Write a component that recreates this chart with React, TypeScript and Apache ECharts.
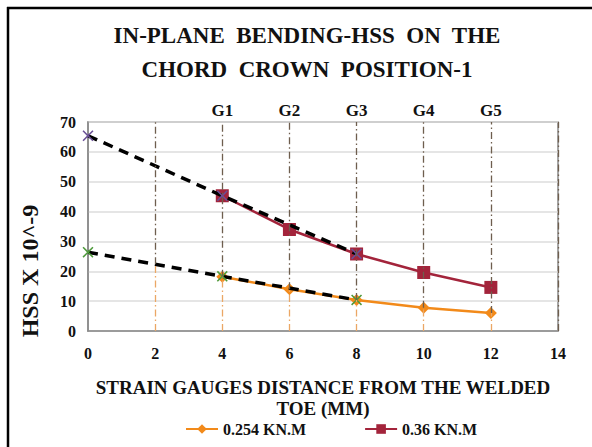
import React, { useEffect, useRef } from "react";
import * as echarts from "echarts";

const distances = [4, 6, 8, 10, 12];
const series254 = [18.2, 14.0, 10.4, 7.8, 6.0];
const series36 = [45.3, 34.0, 25.8, 19.6, 14.6];
const extrapX = [0, 4, 8];
const extrap254 = [26.4, 18.3, 10.4];
const extrap36 = [65.4, 45.3, 25.8];
const gaugeX = [4, 6, 8, 10, 12];
const gaugeNames = ["G1", "G2", "G3", "G4", "G5"];
const gridX = [2, 4, 6, 8, 10, 12, 14];

const FONT = "Liberation Serif";
const ORANGE = "#F28A1A";
const RED = "#A3243B";
const XPATH = "path://M1,0 L5,4 L9,0 L10,1 L6,5 L10,9 L9,10 L5,6 L1,10 L0,9 L4,5 L0,1 Z";

function lowerAt(x: number): number {
  const i = distances.indexOf(x);
  if (i >= 0) return series254[i];
  if (x < 4) {
    const t = (x - extrapX[0]) / (extrapX[1] - extrapX[0]);
    return extrap254[0] + t * (extrap254[1] - extrap254[0]);
  }
  return 0;
}

export default function App() {
  const ref = useRef<HTMLDivElement>(null);
  useEffect(() => {
    if (!ref.current) return;
    const chart = echarts.init(ref.current, undefined, { renderer: "svg" });
    const dashDot = [7, 3, 1.5, 3];
    const markData: any[] = [];
    gridX.forEach((x) => {
      const lv = lowerAt(x);
      markData.push([
        { coord: [x, lv], lineStyle: { color: "#6e5e4e", type: dashDot, width: 1.3 } },
        { coord: [x, 70] },
      ]);
      if (lv > 0) {
        markData.push([
          { coord: [x, 0], lineStyle: { color: "#EBA765", type: dashDot, width: 1.3 } },
          { coord: [x, lv] },
        ]);
      }
    });
    chart.setOption({
      animation: false,
      backgroundColor: "#fff",
      title: {
        text: "IN-PLANE  BENDING-HSS  ON  THE\nCHORD  CROWN  POSITION-1",
        left: 302,
        top: 13,
        textAlign: "center",
        textStyle: {
          fontFamily: FONT,
          fontWeight: "bold",
          fontSize: 23,
          lineHeight: 34,
          color: "#111",
        },
      },
      grid: {
        left: 88,
        right: 34,
        top: 122,
        bottom: 116,
        show: true,
        borderColor: "#8a8a8a",
        borderWidth: 1.5,
      },
      legend: {
        bottom: 5,
        left: 180,
        itemGap: 58,
        itemWidth: 32,
        itemHeight: 12,
        textStyle: { fontFamily: FONT, fontWeight: "bold", fontSize: 16, color: "#111" },
        data: ["0.254 KN.M", "0.36 KN.M"],
      },
      xAxis: [
        {
          type: "value",
          min: 0,
          max: 14,
          interval: 2,
          position: "bottom",
          axisLine: { show: true, lineStyle: { color: "#8a8a8a", width: 1.5 } },
          axisTick: { show: false },
          splitLine: { show: false },
          axisLabel: { fontFamily: FONT, fontWeight: "bold", fontSize: 16, color: "#111", margin: 14 },
          name: "STRAIN GAUGES DISTANCE FROM THE WELDED\nTOE (MM)",
          nameLocation: "middle",
          nameGap: 46,
          nameTextStyle: { fontFamily: FONT, fontWeight: "bold", fontSize: 19, lineHeight: 21, color: "#111" },
        },
        {
          type: "value",
          min: 0,
          max: 14,
          interval: 2,
          position: "top",
          axisLine: { show: false },
          axisTick: { show: false },
          splitLine: { show: false },
          axisLabel: {
            fontFamily: FONT,
            fontWeight: "bold",
            fontSize: 17,
            color: "#111",
            margin: 3,
            formatter: (v: number) => {
              const i = gaugeX.indexOf(v);
              return i >= 0 ? gaugeNames[i] : "";
            },
          },
        },
      ],
      yAxis: {
        type: "value",
        min: 0,
        max: 70,
        interval: 10,
        axisLine: { show: true, lineStyle: { color: "#8a8a8a", width: 1.5 } },
        axisTick: { show: false },
        splitLine: { show: true, lineStyle: { color: "#dcdcdc", width: 1.5 } },
        axisLabel: { fontFamily: FONT, fontWeight: "bold", fontSize: 16, color: "#111", margin: 12 },
      },
      series: [
        {
          name: "grid-lines",
          type: "line",
          data: [],
          silent: true,
          markLine: { silent: true, symbol: "none", label: { show: false }, data: markData },
        },
        {
          name: "0.254 KN.M",
          type: "line",
          data: distances.map((x, i) => [x, series254[i]]),
          color: ORANGE,
          lineStyle: { color: ORANGE, width: 2.5 },
          symbol: "diamond",
          symbolSize: 12,
          itemStyle: { color: ORANGE },
          z: 3,
        },
        {
          name: "0.36 KN.M",
          type: "line",
          data: distances.map((x, i) => [x, series36[i]]),
          color: RED,
          lineStyle: { color: RED, width: 2.5 },
          symbol: "rect",
          symbolSize: 13,
          itemStyle: { color: RED },
          z: 3,
        },
        {
          name: "ext254",
          type: "line",
          data: extrapX.map((x, i) => [x, extrap254[i]]),
          lineStyle: { color: "#000", width: 3.5, type: [10, 7] },
          symbol: XPATH,
          symbolSize: 11,
          itemStyle: { color: "#4f9a3c" },
          z: 4,
        },
        {
          name: "ext36",
          type: "line",
          data: extrapX.map((x, i) => [x, extrap36[i]]),
          lineStyle: { color: "#000", width: 3.5, type: [10, 7] },
          symbol: XPATH,
          symbolSize: 11,
          itemStyle: { color: "#6a4f96" },
          z: 4,
        },
      ],
      graphic: [
        { type: "line", shape: { x1: 7, y1: 8, x2: 592, y2: 8 }, style: { stroke: "#000", lineWidth: 2.5 } },
        { type: "line", shape: { x1: 8, y1: 7, x2: 8, y2: 447 }, style: { stroke: "#000", lineWidth: 2.5 } },
        {
          type: "text",
          x: 30,
          y: 271,
          rotation: Math.PI / 2,
          style: {
            text: "HSS X 10^-9",
            fontFamily: FONT,
            fontWeight: "bold",
            fontSize: 24,
            fill: "#111",
            align: "center",
            verticalAlign: "middle",
          },
        },
      ],
    });
    return () => chart.dispose();
  }, []);
  return (
    <div
      ref={ref}
      style={{ position: "fixed", left: 0, top: 0, width: 592, height: 447, background: "#fff" }}
    />
  );
}
